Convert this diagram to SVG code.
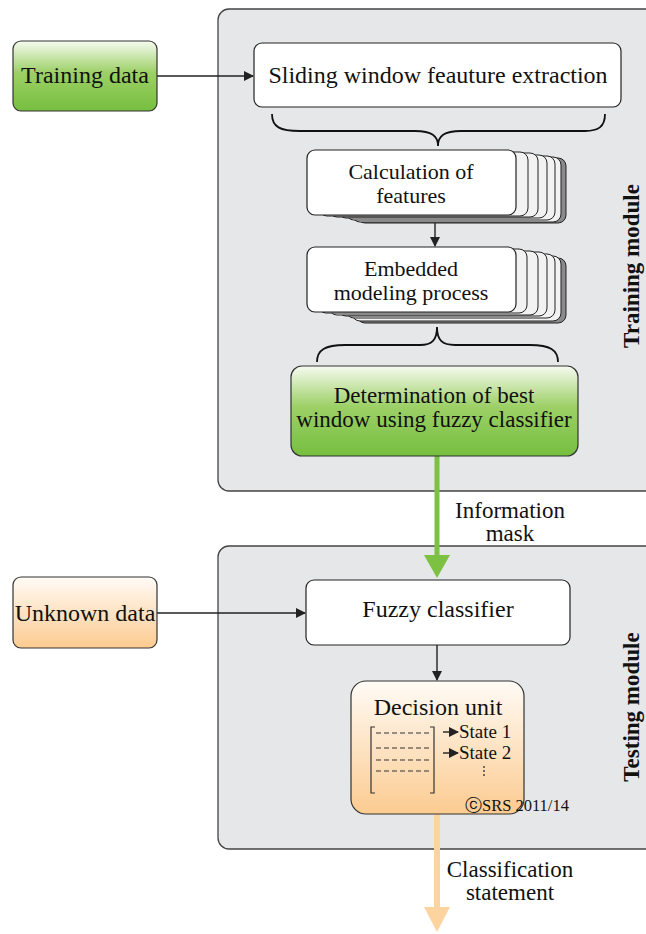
<svg xmlns="http://www.w3.org/2000/svg" width="646" height="934" viewBox="0 0 646 934" font-family="'Liberation Serif', serif">
<defs>
<linearGradient id="gGreen" x1="0" y1="0" x2="0" y2="1">
<stop offset="0" stop-color="#f6fbf0"/><stop offset="0.45" stop-color="#9dd067"/><stop offset="1" stop-color="#76bf3f"/>
</linearGradient>
<linearGradient id="gOrange" x1="0" y1="0" x2="0" y2="1">
<stop offset="0" stop-color="#fffbf6"/><stop offset="1" stop-color="#fccb90"/>
</linearGradient>
<marker id="ah" markerWidth="10" markerHeight="10" refX="9" refY="5" orient="auto" markerUnits="userSpaceOnUse">
<path d="M0,0 L10,5 L0,10 Z" fill="#222"/>
</marker>
</defs>
<style>
.panel{fill:#e6e7e8;stroke:#444;stroke-width:1.3}
.box{fill:#fff;stroke:#222;stroke-width:1.2}
.back{fill:#f2f2f3;stroke:#222;stroke-width:1}
.shadow{fill:#8a8a8c;stroke:#222;stroke-width:1}
text{font-family:'Liberation Serif',serif}
.t{font-size:24px;fill:#111;text-anchor:middle}
.t2{font-size:22px;fill:#111;text-anchor:middle}
.s{font-size:19px;fill:#111}
.side{font-size:23px;font-weight:bold;fill:#111;text-anchor:middle}
.conn{stroke:#222;stroke-width:1.4;fill:none}
.brace{stroke:#111;stroke-width:1.8;fill:none}
</style>

<g id="training-panel">
<rect class="panel" x="218" y="9" width="450" height="482" rx="11"/>
<text class="side" transform="translate(639,266) rotate(-90)">Training module</text>
</g>
<g id="testing-panel">
<rect class="panel" x="218" y="546" width="450" height="303" rx="11"/>
<text class="side" transform="translate(639,707) rotate(-90)">Testing module</text>
</g>

<g id="connectors">
<line class="conn" x1="157" y1="76" x2="253" y2="76" marker-end="url(#ah)"/>
<line class="conn" x1="435" y1="218" x2="435" y2="246" marker-end="url(#ah)"/>
<line class="conn" x1="157" y1="613" x2="305" y2="613" marker-end="url(#ah)"/>
<line class="conn" x1="437" y1="645" x2="437" y2="680" marker-end="url(#ah)"/>
<line x1="437" y1="456" x2="437" y2="556" stroke="#7dc142" stroke-width="5"/>
<path d="M424,555 L450,555 L437,578 Z" fill="#7dc142"/>
<line x1="437" y1="814" x2="437" y2="908" stroke="#fdd4a0" stroke-width="6"/>
<path d="M424,907 L450,907 L437,932 Z" fill="#fdd4a0"/>
<path class="brace" d="M272,114 C272,127 280,131 300,131 L415,131 C432,131 438,136 438,146 C438,136 444,131 461,131 L585,131 C598,131 605,127 605,114"/>
<path class="brace" d="M317,362 C317,350 325,345 345,345 L420,345 C432,345 437,340 437,327 C437,340 442,345 455,345 L530,345 C550,345 558,350 558,362"/>
<text class="t2" x="510" y="518" style="font-size:23px">Information</text>
<text class="t2" x="510" y="541" style="font-size:23px">mask</text>
<text class="t2" x="510" y="877" style="font-size:23px">Classification</text>
<text class="t2" x="510" y="900" style="font-size:23px">statement</text>
</g>

<g id="training-data">
<rect x="13" y="41" width="144" height="70" rx="8" fill="url(#gGreen)" stroke="#333" stroke-width="1.2"/>
<text class="t" x="85" y="83">Training data</text>
</g>

<g id="sliding-window">
<rect class="box" x="254" y="43" width="367" height="64" rx="8"/>
<text class="t" x="438" y="83">Sliding window feauture extraction</text>
</g>

<g id="calculation">
<rect class="shadow" x="357" y="158" width="209" height="65" rx="8"/>
<rect class="back" x="352" y="157" width="209" height="65" rx="8"/>
<rect class="back" x="346" y="156" width="209" height="64" rx="8"/>
<rect class="back" x="338" y="155" width="209" height="63" rx="8"/>
<rect class="back" x="329" y="153" width="209" height="64" rx="8"/>
<rect class="back" x="319" y="152" width="209" height="64" rx="8"/>
<rect class="box" x="307" y="150" width="209" height="65" rx="8"/>
<text class="t2" x="411" y="179">Calculation of</text>
<text class="t2" x="411" y="203">features</text>
</g>

<g id="embedded">
<rect class="shadow" x="357" y="258" width="209" height="65" rx="8"/>
<rect class="back" x="352" y="256" width="209" height="65" rx="8"/>
<rect class="back" x="346" y="254" width="209" height="64" rx="8"/>
<rect class="back" x="338" y="252" width="209" height="64" rx="8"/>
<rect class="back" x="329" y="251" width="209" height="64" rx="8"/>
<rect class="back" x="318" y="249" width="209" height="64" rx="8"/>
<rect class="box" x="307" y="247" width="209" height="65" rx="8"/>
<text class="t2" x="411" y="276">Embedded</text>
<text class="t2" x="411" y="300">modeling process</text>
</g>

<g id="determination">
<rect x="291" y="366" width="287" height="90" rx="11" fill="url(#gGreen)" stroke="#333" stroke-width="1.2"/>
<text class="t2" x="434" y="403" style="font-size:23px">Determination of best</text>
<text class="t2" x="434" y="427" style="font-size:23px">window using fuzzy classifier</text>
</g>

<g id="unknown-data">
<rect x="13" y="577" width="144" height="71" rx="8" fill="url(#gOrange)" stroke="#333" stroke-width="1.2"/>
<text class="t" x="85" y="621">Unknown data</text>
</g>

<g id="fuzzy-classifier">
<rect class="box" x="306" y="580" width="264" height="65" rx="8"/>
<text class="t" x="438" y="617">Fuzzy classifier</text>
</g>

<g id="decision-unit">
<rect x="351" y="681" width="173" height="133" rx="15" fill="url(#gOrange)" stroke="#333" stroke-width="1.2"/>
<text class="t" x="438" y="715">Decision unit</text>
<path d="M375,727 L371,727 L371,793 L375,793 M430,727 L434,727 L434,793 L430,793" stroke="#333" stroke-width="1.2" fill="none"/>
<g stroke="#333" stroke-width="1.1" stroke-dasharray="5,3">
<line x1="376" y1="733" x2="431" y2="733"/>
<line x1="376" y1="748" x2="431" y2="748"/>
<line x1="376" y1="760" x2="431" y2="760"/>
<line x1="376" y1="771" x2="431" y2="771"/>
</g>
<line class="conn" x1="443" y1="732" x2="458" y2="732" marker-end="url(#ah)"/>
<line class="conn" x1="443" y1="753" x2="458" y2="753" marker-end="url(#ah)"/>
<text class="s" x="459" y="738">State 1</text>
<text class="s" x="459" y="759">State 2</text>
<g fill="#333"><circle cx="484" cy="767" r="0.9"/><circle cx="484" cy="771" r="0.9"/><circle cx="484" cy="775" r="0.9"/></g>
<text x="465" y="811" style="font-size:16.5px;fill:#111">ⓒSRS 2011/14</text>
</g>
</svg>
